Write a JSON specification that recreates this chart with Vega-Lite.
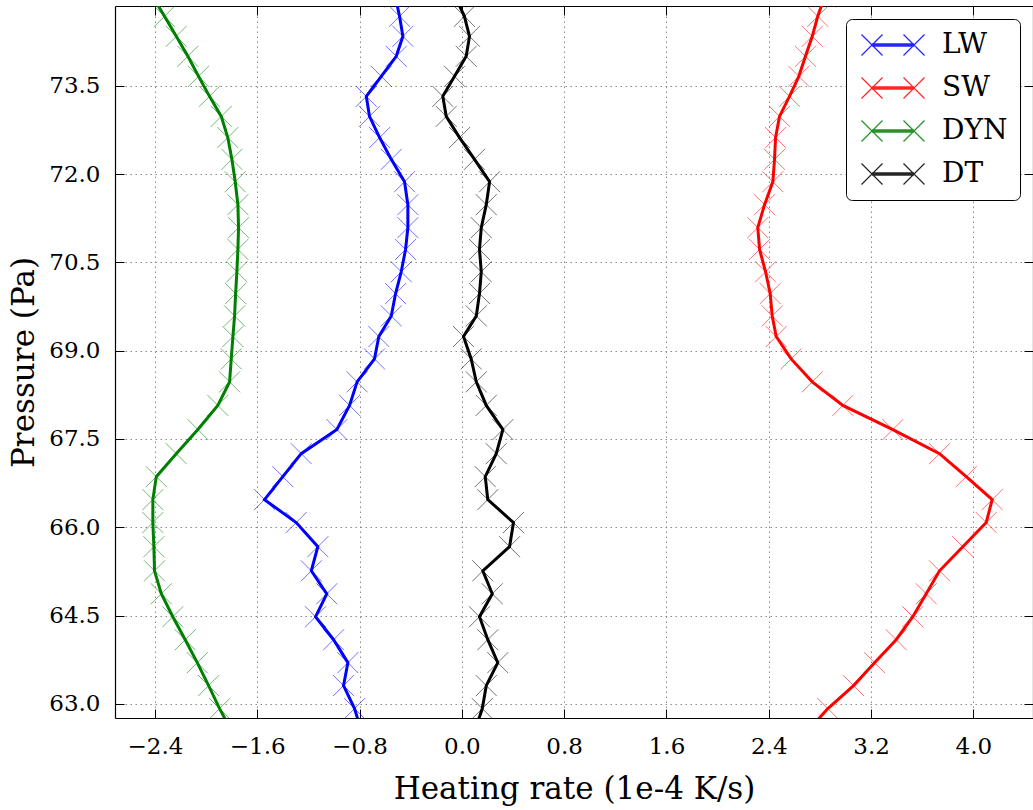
{
  "$schema": "https://vega.github.io/schema/vega-lite/v6.json",
  "width": 918,
  "height": 712,
  "autosize": "none",
  "padding": {"left": 115, "top": 6, "right": 0, "bottom": 92},
  "background": "white",
  "config": {
    "font": "DejaVu Serif",
    "view": {"stroke": null},
    "axis": {
      "domainColor": "black",
      "domainWidth": 1.2,
      "tickColor": "black",
      "tickSize": -9,
      "tickWidth": 1,
      "labelColor": "black",
      "labelFontSize": 23,
      "titleColor": "black",
      "titleFontSize": 31,
      "titleFontWeight": "normal",
      "gridColor": "#8a8a8a",
      "gridDash": [1.5, 3.5],
      "gridWidth": 1
    },
    "legend": {
      "orient": "top-right",
      "offset": 13,
      "fillColor": "white",
      "strokeColor": "black",
      "cornerRadius": 6,
      "padding": 12,
      "symbolType": "M-1,-1L1,1M-1,1L1,-1M3,-1L5,1M3,1L5,-1M0,-0.1H4M0,0H4M0,0.1H4",
      "symbolSize": 441,
      "symbolStrokeWidth": 1.2,
      "symbolOpacity": 0.85,
      "labelFontSize": 28,
      "labelColor": "black",
      "labelOffset": 56,
      "rowPadding": 15
    }
  },
  "data": {
    "values": [
      {"s": "LW", "p": 75.01, "h": -0.52}, {"s": "LW", "p": 74.68, "h": -0.487}, {"s": "LW", "p": 74.34, "h": -0.461}, {"s": "LW", "p": 74.0, "h": -0.513},
      {"s": "LW", "p": 73.66, "h": -0.63}, {"s": "LW", "p": 73.32, "h": -0.747}, {"s": "LW", "p": 72.98, "h": -0.722}, {"s": "LW", "p": 72.62, "h": -0.643},
      {"s": "LW", "p": 72.25, "h": -0.552}, {"s": "LW", "p": 71.87, "h": -0.448}, {"s": "LW", "p": 71.48, "h": -0.422}, {"s": "LW", "p": 71.09, "h": -0.422},
      {"s": "LW", "p": 70.72, "h": -0.44}, {"s": "LW", "p": 70.34, "h": -0.474}, {"s": "LW", "p": 69.97, "h": -0.518}, {"s": "LW", "p": 69.59, "h": -0.552},
      {"s": "LW", "p": 69.24, "h": -0.649}, {"s": "LW", "p": 68.86, "h": -0.683}, {"s": "LW", "p": 68.47, "h": -0.819}, {"s": "LW", "p": 68.07, "h": -0.878},
      {"s": "LW", "p": 67.66, "h": -0.977}, {"s": "LW", "p": 67.25, "h": -1.256}, {"s": "LW", "p": 66.86, "h": -1.4}, {"s": "LW", "p": 66.47, "h": -1.543},
      {"s": "LW", "p": 66.08, "h": -1.295}, {"s": "LW", "p": 65.67, "h": -1.126}, {"s": "LW", "p": 65.26, "h": -1.177}, {"s": "LW", "p": 64.87, "h": -1.056},
      {"s": "LW", "p": 64.48, "h": -1.144}, {"s": "LW", "p": 64.09, "h": -1.003}, {"s": "LW", "p": 63.7, "h": -0.891}, {"s": "LW", "p": 63.31, "h": -0.925},
      {"s": "LW", "p": 62.92, "h": -0.839}, {"s": "LW", "p": 62.53, "h": -0.784},
      {"s": "SW", "p": 75.01, "h": 2.836}, {"s": "SW", "p": 74.68, "h": 2.783}, {"s": "SW", "p": 74.34, "h": 2.74}, {"s": "SW", "p": 74.0, "h": 2.687},
      {"s": "SW", "p": 73.66, "h": 2.635}, {"s": "SW", "p": 73.32, "h": 2.562}, {"s": "SW", "p": 72.98, "h": 2.484}, {"s": "SW", "p": 72.62, "h": 2.453},
      {"s": "SW", "p": 72.25, "h": 2.445}, {"s": "SW", "p": 71.87, "h": 2.432}, {"s": "SW", "p": 71.48, "h": 2.367}, {"s": "SW", "p": 71.09, "h": 2.314},
      {"s": "SW", "p": 70.72, "h": 2.328}, {"s": "SW", "p": 70.34, "h": 2.375}, {"s": "SW", "p": 69.97, "h": 2.411}, {"s": "SW", "p": 69.59, "h": 2.427},
      {"s": "SW", "p": 69.24, "h": 2.458}, {"s": "SW", "p": 68.86, "h": 2.575}, {"s": "SW", "p": 68.47, "h": 2.74}, {"s": "SW", "p": 68.07, "h": 2.979},
      {"s": "SW", "p": 67.66, "h": 3.37}, {"s": "SW", "p": 67.25, "h": 3.735}, {"s": "SW", "p": 66.86, "h": 3.944}, {"s": "SW", "p": 66.47, "h": 4.147},
      {"s": "SW", "p": 66.08, "h": 4.1}, {"s": "SW", "p": 65.67, "h": 3.917}, {"s": "SW", "p": 65.26, "h": 3.735}, {"s": "SW", "p": 64.87, "h": 3.631},
      {"s": "SW", "p": 64.48, "h": 3.526}, {"s": "SW", "p": 64.09, "h": 3.396}, {"s": "SW", "p": 63.7, "h": 3.227}, {"s": "SW", "p": 63.31, "h": 3.063},
      {"s": "SW", "p": 62.92, "h": 2.862}, {"s": "SW", "p": 62.53, "h": 2.7},
      {"s": "DYN", "p": 75.01, "h": -2.415}, {"s": "DYN", "p": 74.68, "h": -2.325}, {"s": "DYN", "p": 74.34, "h": -2.233}, {"s": "DYN", "p": 74.0, "h": -2.142},
      {"s": "DYN", "p": 73.66, "h": -2.059}, {"s": "DYN", "p": 73.32, "h": -1.973}, {"s": "DYN", "p": 72.98, "h": -1.881}, {"s": "DYN", "p": 72.62, "h": -1.83},
      {"s": "DYN", "p": 72.25, "h": -1.798}, {"s": "DYN", "p": 71.87, "h": -1.772}, {"s": "DYN", "p": 71.48, "h": -1.751}, {"s": "DYN", "p": 71.09, "h": -1.746},
      {"s": "DYN", "p": 70.72, "h": -1.751}, {"s": "DYN", "p": 70.34, "h": -1.759}, {"s": "DYN", "p": 69.97, "h": -1.769}, {"s": "DYN", "p": 69.59, "h": -1.777},
      {"s": "DYN", "p": 69.24, "h": -1.79}, {"s": "DYN", "p": 68.86, "h": -1.803}, {"s": "DYN", "p": 68.47, "h": -1.816}, {"s": "DYN", "p": 68.07, "h": -1.908},
      {"s": "DYN", "p": 67.66, "h": -2.064}, {"s": "DYN", "p": 67.25, "h": -2.233}, {"s": "DYN", "p": 66.86, "h": -2.389}, {"s": "DYN", "p": 66.47, "h": -2.416},
      {"s": "DYN", "p": 66.08, "h": -2.416}, {"s": "DYN", "p": 65.67, "h": -2.408}, {"s": "DYN", "p": 65.26, "h": -2.403}, {"s": "DYN", "p": 64.87, "h": -2.35},
      {"s": "DYN", "p": 64.48, "h": -2.26}, {"s": "DYN", "p": 64.09, "h": -2.163}, {"s": "DYN", "p": 63.7, "h": -2.069}, {"s": "DYN", "p": 63.31, "h": -1.98},
      {"s": "DYN", "p": 62.92, "h": -1.894}, {"s": "DYN", "p": 62.53, "h": -1.8},
      {"s": "DT", "p": 75.01, "h": -0.05}, {"s": "DT", "p": 74.68, "h": 0.02}, {"s": "DT", "p": 74.34, "h": 0.06}, {"s": "DT", "p": 74.0, "h": 0.034},
      {"s": "DT", "p": 73.66, "h": -0.057}, {"s": "DT", "p": 73.32, "h": -0.149}, {"s": "DT", "p": 72.98, "h": -0.122}, {"s": "DT", "p": 72.62, "h": -0.018},
      {"s": "DT", "p": 72.25, "h": 0.099}, {"s": "DT", "p": 71.87, "h": 0.217}, {"s": "DT", "p": 71.48, "h": 0.191}, {"s": "DT", "p": 71.09, "h": 0.152},
      {"s": "DT", "p": 70.72, "h": 0.138}, {"s": "DT", "p": 70.34, "h": 0.152}, {"s": "DT", "p": 69.97, "h": 0.138}, {"s": "DT", "p": 69.59, "h": 0.113},
      {"s": "DT", "p": 69.24, "h": 0.013}, {"s": "DT", "p": 68.86, "h": 0.073}, {"s": "DT", "p": 68.47, "h": 0.113}, {"s": "DT", "p": 68.07, "h": 0.191},
      {"s": "DT", "p": 67.66, "h": 0.321}, {"s": "DT", "p": 67.25, "h": 0.269}, {"s": "DT", "p": 66.86, "h": 0.183}, {"s": "DT", "p": 66.47, "h": 0.203},
      {"s": "DT", "p": 66.08, "h": 0.404}, {"s": "DT", "p": 65.67, "h": 0.373}, {"s": "DT", "p": 65.26, "h": 0.164}, {"s": "DT", "p": 64.87, "h": 0.238},
      {"s": "DT", "p": 64.48, "h": 0.138}, {"s": "DT", "p": 64.09, "h": 0.203}, {"s": "DT", "p": 63.7, "h": 0.281}, {"s": "DT", "p": 63.31, "h": 0.191},
      {"s": "DT", "p": 62.92, "h": 0.16}, {"s": "DT", "p": 62.53, "h": 0.1}
    ]
  },
  "layer": [
    {
      "mark": {"type": "line", "strokeWidth": 3, "clip": true},
      "encoding": {
        "x": {
          "field": "h", "type": "quantitative",
          "scale": {"domain": [-2.712, 4.466], "nice": false, "zero": false},
          "axis": {
            "orient": "bottom",
            "title": "Heating rate (1e-4 K/s)",
            "values": [-2.4, -1.6, -0.8, 0, 0.8, 1.6, 2.4, 3.2, 4.0],
            "format": ".1f",
            "labelPadding": 26,
            "titlePadding": 16,
            "grid": true
          }
        },
        "y": {
          "field": "p", "type": "quantitative",
          "scale": {"domain": [62.76, 74.855], "nice": false, "zero": false},
          "axis": {
            "orient": "left",
            "title": "Pressure (Pa)",
            "values": [63.0, 64.5, 66.0, 67.5, 69.0, 70.5, 72.0, 73.5],
            "format": ".1f",
            "labelPadding": 24,
            "titlePadding": 8,
            "grid": true
          }
        },
        "color": {
          "field": "s", "type": "nominal",
          "scale": {"domain": ["LW", "SW", "DYN", "DT"], "range": ["#0000ff", "#ff0000", "#008000", "#000000"]},
          "legend": {"title": null}
        },
        "order": {"field": "p", "type": "quantitative"}
      }
    },
    {
      "mark": {"type": "point", "shape": "M-1,-1L1,1M-1,1L1,-1", "filled": false, "size": 441, "strokeWidth": 1, "opacity": 0.55, "clip": true},
      "encoding": {
        "x": {
          "field": "h", "type": "quantitative",
          "axis": {"orient": "top", "title": null, "labels": false, "grid": false, "values": [-2.4, -1.6, -0.8, 0, 0.8, 1.6, 2.4, 3.2, 4.0]}
        },
        "y": {
          "field": "p", "type": "quantitative",
          "axis": {"orient": "right", "title": null, "labels": false, "grid": false, "values": [63.0, 64.5, 66.0, 67.5, 69.0, 70.5, 72.0, 73.5]}
        },
        "color": {"field": "s", "type": "nominal", "legend": {"title": null}}
      }
    }
  ],
  "resolve": {"axis": {"x": "independent", "y": "independent"}}
}
